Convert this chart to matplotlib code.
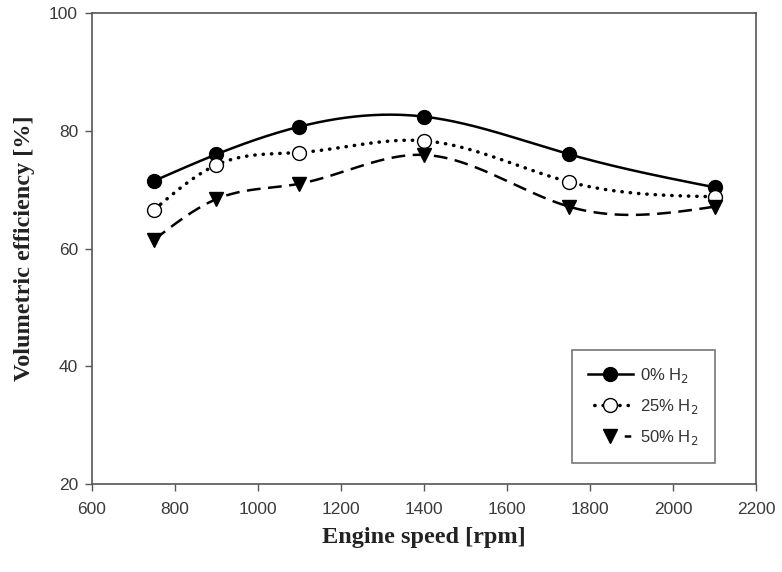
import numpy as np
import matplotlib
matplotlib.use('Agg')
import matplotlib.pyplot as plt

# engine speed [rpm]
speed = [750, 900, 1100, 1400, 1750, 2100]
# volumetric efficiency [%]
ve_h2_0 = [71.5, 76.0, 80.7, 82.4, 76.0, 70.4]
ve_h2_25 = [66.6, 74.2, 76.3, 78.3, 71.3, 68.8]
ve_h2_50 = [61.5, 68.4, 71.0, 75.9, 67.1, 67.1]

labels = ['0% H$_2$', '25% H$_2$', '50% H$_2$']


def spline(x, y, n=300):
    # natural cubic spline through the points
    x = np.asarray(x, float)
    y = np.asarray(y, float)
    k = len(x)
    h = np.diff(x)
    A = np.zeros((k, k))
    r = np.zeros(k)
    A[0, 0] = A[-1, -1] = 1
    for i in range(1, k - 1):
        A[i, i - 1] = h[i - 1]
        A[i, i] = 2 * (h[i - 1] + h[i])
        A[i, i + 1] = h[i]
        r[i] = 6 * ((y[i + 1] - y[i]) / h[i] - (y[i] - y[i - 1]) / h[i - 1])
    m = np.linalg.solve(A, r)
    xs = np.linspace(x[0], x[-1], n)
    j = np.clip(np.searchsorted(x, xs) - 1, 0, k - 2)
    t0 = x[j + 1] - xs
    t1 = xs - x[j]
    hh = h[j]
    ys = (m[j] * t0 ** 3 / (6 * hh) + m[j + 1] * t1 ** 3 / (6 * hh)
          + (y[j] / hh - m[j] * hh / 6) * t0 + (y[j + 1] / hh - m[j + 1] * hh / 6) * t1)
    return xs, ys


fig = plt.figure(figsize=(7.82, 5.72), dpi=100)
ax = fig.add_axes([0.1176, 0.1538, 0.8492, 0.8235])

styles = [
    dict(lw=1.8, ls='-', marker='o', mfc='black', cap='butt', leg_ls='-'),
    dict(lw=2.5, ls=(0, (0.1, 2.3)), marker='o', mfc='white', cap='round', leg_ls=(0.6, (0.1, 2.3))),
    dict(lw=1.8, ls=(0, (5.5, 3.0)), marker='v', mfc='black', cap='butt', leg_ls=(0, (0, 14.5, 2.6, 30))),
]
for yv, lab, st in zip([ve_h2_0, ve_h2_25, ve_h2_50], labels, styles):
    xs, ys = spline(speed, yv)
    ln, = ax.plot(xs, ys, color='black', lw=st['lw'], ls=st['ls'], zorder=2)
    ln.set_dash_capstyle(st['cap'])
    ax.plot(speed, yv, ls='none', marker=st['marker'], ms=10, mfc=st['mfc'],
            mec='black', mew=1.0, zorder=3)
    # legend proxy
    px, = ax.plot([], [], color='black', lw=st['lw'], ls=st['leg_ls'], marker=st['marker'],
                  ms=10, mfc=st['mfc'], mec='black', mew=1.0, label=lab)
    px.set_dash_capstyle(st['cap'])

ax.set_xlim(600, 2200)
ax.set_ylim(20, 100)
ax.set_xticks(range(600, 2201, 200))
ax.set_yticks(range(20, 101, 20))
ax.tick_params(direction='out', length=5, width=1, labelsize=12.5, color='#555555',
               labelcolor='#3a3a3a')
ax.tick_params(axis='x', pad=8)
ax.tick_params(axis='y', pad=5)
for lab in ax.get_xticklabels() + ax.get_yticklabels():
    lab.set_family('Liberation Sans')
for sp in ax.spines.values():
    sp.set_color('#555555')
    sp.set_linewidth(1.2)

ax.set_xlabel('Engine speed [rpm]', family='Liberation Serif', weight='bold', fontsize=17.5,
              labelpad=7, color='#222222')
ax.set_ylabel('Volumetric efficiency [%]', family='Liberation Serif', weight='bold', fontsize=17.5,
              labelpad=10, color='#222222')

leg = ax.legend(loc='lower right', bbox_to_anchor=(0.9375, 0.045), fancybox=False, frameon=True,
                edgecolor='#555555', handlelength=2.7, handletextpad=0.45, borderpad=0.95,
                labelspacing=0.72, borderaxespad=0,
                prop={'family': 'Liberation Sans', 'size': 12})
leg.get_frame().set_linewidth(1.2)
for t in leg.get_texts():
    t.set_color('#333333')

fig.savefig('out.png', dpi=100)
